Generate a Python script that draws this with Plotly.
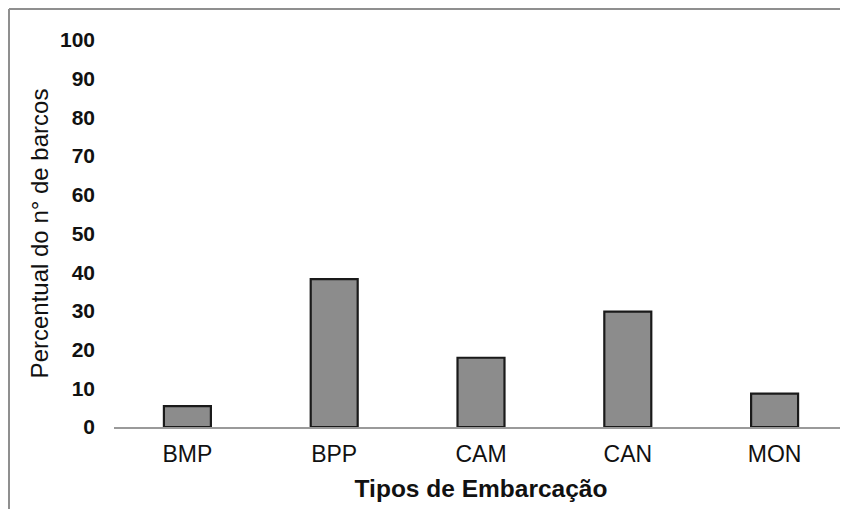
import plotly.graph_objects as go

categories = ["BMP", "BPP", "CAM", "CAN", "MON"]
values = [5.4, 38.2, 17.9, 29.8, 8.6]
y_ticks = [0, 10, 20, 30, 40, 50, 60, 70, 80, 90, 100]

# page is drawn with an 8px body offset, so the figure is sized/positioned to compensate
OFF = 8
W, H = 848 - OFF, 509 - OFF
L, R, T, B = 114 - OFF, 0, 40 - OFF, 82
pw, ph = W - L - R, H - T - B

fig = go.Figure()
fig.add_trace(go.Bar(
    x=categories, y=values,
    width=0.32,
    marker=dict(color="#8c8c8c", line=dict(color="#1a1a1a", width=2.2)),
))

def px_to_paper_x(px):
    return (px - OFF - L) / pw

def py_to_paper_y(py):
    return (H - B - (py - OFF)) / ph

fig.update_layout(
    width=W, height=H,
    margin=dict(l=L, r=R, t=T, b=B),
    paper_bgcolor="white", plot_bgcolor="white",
    showlegend=False,
    font=dict(family="Liberation Sans, Arial, sans-serif", color="#111"),
    xaxis=dict(
        showgrid=False, zeroline=False,
        showline=True, linecolor="#9a9a9a", linewidth=2,
        tickfont=dict(size=23, color="#111"),
        ticks="", ticklabelstandoff=5,
        title=dict(text="<b>Tipos de Embarcação</b>", font=dict(size=24.5, color="#111"), standoff=14),
    ),
    yaxis=dict(
        range=[0, 100], tickvals=y_ticks,
        showgrid=False, zeroline=False, showline=False,
        tickfont=dict(size=21, color="#111", weight="bold"),
        ticks="", ticklabelstandoff=18,
        title=dict(text="Percentual do n° de barcos", font=dict(size=24, color="#111"), standoff=4),
    ),
    shapes=[
        dict(type="line", xref="paper", yref="paper",
             x0=px_to_paper_x(9), x1=px_to_paper_x(848), y0=py_to_paper_y(9), y1=py_to_paper_y(9),
             line=dict(color="#8f8f8f", width=2)),
        dict(type="line", xref="paper", yref="paper",
             x0=px_to_paper_x(9), x1=px_to_paper_x(9), y0=py_to_paper_y(9), y1=py_to_paper_y(509),
             line=dict(color="#8f8f8f", width=2)),
    ],
)

fig.write_html("out.html")
